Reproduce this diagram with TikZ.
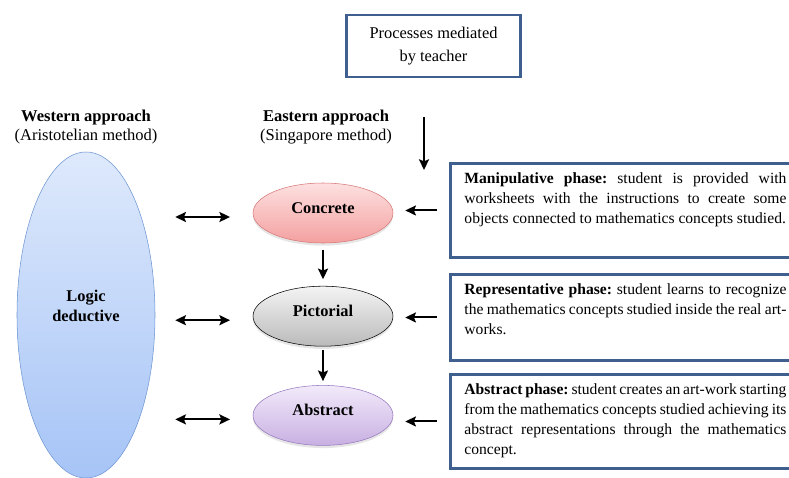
\documentclass[tikz,border=0pt]{standalone}
\usepackage{fontspec}
\setmainfont{Liberation Serif}
\frenchspacing
\usetikzlibrary{arrows.meta,positioning,shadows,shapes.geometric}
\definecolor{boxblue}{HTML}{3F5F8F}
\newcommand{\phasetext}[2]{\parbox[c][#1][t]{241.5pt}{#2}}
\tikzset{
    heading/.style={align=center, font=\fontsize{12.4}{14}\selectfont, inner sep=0pt},
    phase/.style={rectangle, draw=boxblue, line width=2.2pt, anchor=north west, inner xsep=10.5pt, inner ysep=7pt, font=\fontsize{11.7}{15}\selectfont},
    teacherbox/.style={rectangle, draw=boxblue, line width=2.2pt, minimum width=130pt, minimum height=46.5pt, align=center, font=\fontsize{12.3}{17}\selectfont},
    stage/.style={ellipse, draw, thin, minimum width=105pt, minimum height=45pt, text height=0pt, text depth=0pt, font=\bfseries\fontsize{12.3}{13}\selectfont, drop shadow={opacity=0.2, shadow xshift=0pt, shadow yshift=-2pt}},
    flow/.style={-{Stealth[length=8pt, width=7.5pt, inset=1.5pt]}, line width=1.5pt},
    dflow/.style={{Stealth[length=8pt, width=7.5pt, inset=1.5pt]}-{Stealth[length=8pt, width=7.5pt, inset=1.5pt]}, line width=1.5pt},
}
\begin{document}
\begin{tikzpicture}[x=0.75pt, y=-0.75pt, node distance=32pt]
    \useasboundingbox (0,0) rectangle (789,478);
    \node[teacherbox] (teacher) at (433.5,46) {Processes mediated\\by teacher};
    \node[heading] (west) at (86,127) {\textbf{Western approach}\\(Aristotelian method)};
    \node[heading] (east) at (326,127) {\textbf{Eastern approach}\\(Singapore method)};

    \node[ellipse, draw={rgb,255:red,110;green,150;blue,210}, thin, top color={rgb,255:red,222;green,233;blue,252}, bottom color={rgb,255:red,166;green,196;blue,246}, minimum width=103.5pt, minimum height=244.5pt, align=center, font=\bfseries\fontsize{12.3}{15}\selectfont] (logic) at (86,315) {Logic\\deductive\\[-1pt]};

    \node[stage, draw={rgb,255:red,214;green,120;blue,120}, top color={rgb,255:red,253;green,224;blue,224}, bottom color={rgb,255:red,244;green,160;blue,160}] (concrete) at (323,213) {Concrete};
    \node[stage, below=of concrete, draw=black, top color={rgb,255:red,244;green,244;blue,244}, bottom color={rgb,255:red,186;green,186;blue,186}] (pictorial) {Pictorial};
    \node[stage, below=29pt of pictorial, draw={rgb,255:red,150;green,120;blue,190}, top color={rgb,255:red,242;green,234;blue,250}, bottom color={rgb,255:red,200;green,176;blue,226}] (abstract) {Abstract};

    \node[phase] (manip) at (449,162) {\phasetext{56.5pt}{\textbf{Manipulative phase:} student is provided with\linebreak worksheets with the instructions to create some\linebreak objects connected to mathematics concepts studied.}};
    \node[phase] (repr) at (449,273) {\phasetext{50.5pt}{\textbf{Representative phase:} student learns to recognize\linebreak the mathematics concepts studied inside the real art-\linebreak works.}};
    \node[phase] (abstr) at (449,373) {\phasetext{56.5pt}{\textbf{Abstract phase:} student creates an art-work starting\linebreak from the mathematics concepts studied achieving its\linebreak abstract representations through the mathematics\linebreak concept.}};

    \coordinate (tstart) at (424,117);
    \coordinate (tend) at (424,170);
    \draw[flow] (tstart) -- (tend);

    \draw[flow, shorten <=5pt, shorten >=5pt] (concrete) -- (pictorial);
    \draw[flow, shorten <=3pt, shorten >=3pt] (pictorial) -- (abstract);

    \foreach \s in {concrete, pictorial, abstract}
        \draw[dflow, shorten <=15pt, shorten >=17pt] ([yshift=-3pt]logic.east |- \s) -- ([yshift=-3pt]\s.west);
    \foreach \p/\s in {manip/concrete, repr/pictorial, abstr/abstract}
        \draw[flow, shorten <=9pt, shorten >=9pt] (\p.west) -- (\p.west -| \s.east);
\end{tikzpicture}
\end{document}
